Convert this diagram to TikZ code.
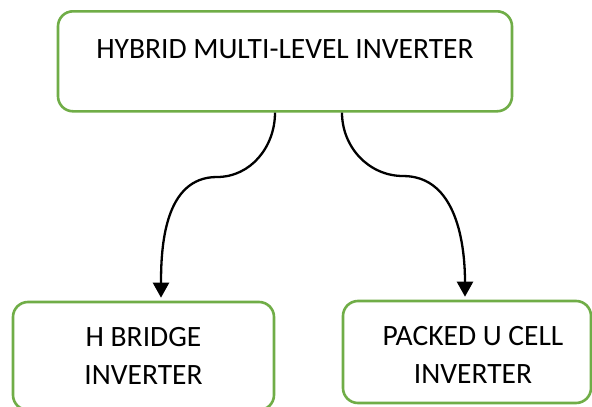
\documentclass[tikz,border=0pt]{standalone}
\usepackage{fontspec}
\setmainfont{Carlito}
\usetikzlibrary{arrows.meta,calc}
\definecolor{boxgreen}{HTML}{70AD47}
\tikzset{
  label font/.style={font=\fontsize{29.5}{38.5}\selectfont},
  box/.style={draw=boxgreen, line width=2.6pt, rounded corners=15pt, fill=white,
    inner sep=0pt, align=center, label font},
  link/.style={line width=2.3pt, -{Triangle[width=16pt,length=15pt]}, shorten >=3pt}
}
\begin{document}
\begin{tikzpicture}[x=1pt,y=-1pt]
\useasboundingbox (0,0) rectangle (592,407);
% top block, text set in its upper part
\node[box, minimum width=454pt, text height=47pt, text depth=53pt, anchor=north]
  (hmi) at (285,10) {HYBRID MULTI-LEVEL INVERTER};
% lower blocks
\node[box, minimum width=261pt, minimum height=108pt] (hb) at (143.5,356) {H BRIDGE\\INVERTER};
\node[box, minimum width=248pt, minimum height=102pt] (puc) at (467,352) {};
\node[label font, align=center, inner sep=0pt] (puct) at (473,355) {PACKED U CELL\\INVERTER};
% curved connectors
\coordinate (m1) at (217,177);
\coordinate (m2) at (403,176);
\draw[link] ($(hmi.south)+(-10,0)$) to[out=-90,in=0] (m1) to[out=180,in=90] ($(hb.north)+(17.5,0)$);
\draw[link] ($(hmi.south)+(57,0)$) to[out=-90,in=180] (m2) to[out=0,in=90] ($(puc.north)+(-2,0)$);
\end{tikzpicture}
\end{document}
